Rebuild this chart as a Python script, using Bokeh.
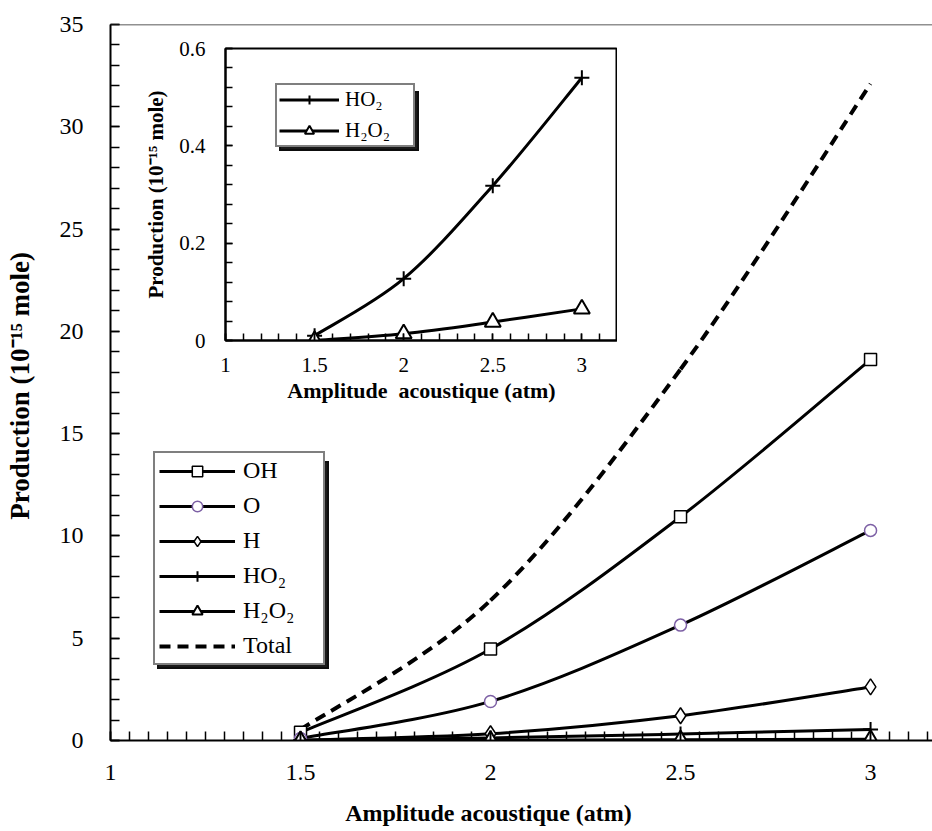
import numpy as np
from bokeh.plotting import figure
from bokeh.models import (Legend, LegendItem, SingleIntervalTicker, FixedTicker, Span,
                          Range1d)
from bokeh.layouts import column
from bokeh.embed import file_html
from bokeh.resources import INLINE

# ---------------- data ----------------
amplitude = [1.5, 2.0, 2.5, 3.0]
prod_oh = [0.40, 4.47, 10.94, 18.62]
prod_o = [0.10, 1.91, 5.64, 10.27]
prod_h = [0.02, 0.33, 1.21, 2.62]
prod_ho2 = [0.01, 0.127, 0.318, 0.54]
prod_h2o2 = [0.0, 0.014, 0.038, 0.065]
prod_total = [0.53, 6.85, 18.15, 32.1]

series_labels = ["OH", "O", "H", "HO\u2082", "H\u2082O\u2082", "Total"]
inset_y_ticks = [0, 0.2, 0.4, 0.6]
x_title = "Amplitude acoustique (atm)"
inset_x_title = "Amplitude\u00a0 acoustique (atm)"
y_title = "Production (10\u207b\u00b9\u2075 mole)"

FONT = "Liberation Serif"
PURPLE = "#7D60A5"
NBSP = "\u00a0"


def bezier_controls(xs, ys):
    """Excel-like smoothed line: Catmull-Rom segments as cubic Bezier controls."""
    x = np.asarray(xs, float)
    y = np.asarray(ys, float)
    n = len(x)
    xp = np.concatenate([[x[0]], x, [x[-1]]])
    yp = np.concatenate([[y[0]], y, [y[-1]]])
    return dict(
        x0=x[:-1], y0=y[:-1], x1=x[1:], y1=y[1:],
        cx0=xp[1:n] + (xp[2:n + 1] - xp[0:n - 1]) / 6.0,
        cy0=yp[1:n] + (yp[2:n + 1] - yp[0:n - 1]) / 6.0,
        cx1=xp[2:n + 1] - (xp[3:n + 2] - xp[1:n]) / 6.0,
        cy1=yp[2:n + 1] - (yp[3:n + 2] - yp[1:n]) / 6.0,
    )


def style_axes(fig, tick_size, xticker, yticker, x_standoff, y_standoff, tick_len):
    fig.xgrid.visible = False
    fig.ygrid.visible = False
    fig.xaxis.ticker = xticker
    fig.yaxis.ticker = yticker
    for ax in fig.axis:
        ax.axis_line_color = "black"
        ax.axis_line_width = 2
        ax.major_tick_line_color = "black"
        ax.minor_tick_line_color = "black"
        ax.major_tick_line_width = 1.5
        ax.minor_tick_line_width = 1.5
        ax.major_tick_in = tick_len
        ax.major_tick_out = 0
        ax.minor_tick_in = tick_len
        ax.minor_tick_out = 0
        ax.major_label_text_font = FONT
        ax.major_label_text_font_size = tick_size
        ax.major_label_text_color = "black"
        ax.axis_label_text_font = FONT
        ax.axis_label_text_font_style = "bold"
        ax.axis_label_text_color = "black"
    fig.xaxis.major_label_standoff = x_standoff
    fig.yaxis.major_label_standoff = y_standoff


def make_items(labels, lines, marks):
    items = []
    for lab, lr, mr in zip(labels, lines, marks):
        rs = [lr] + ([mr] if mr is not None else [])
        items.append(LegendItem(label=lab, renderers=rs))
    return items


def legend_pair(fig, labels, lines, marks, loc, font_size, glyph_w, glyph_h,
                spacing, padding, label_w, standoff):
    common = dict(orientation="vertical", margin=0,
                  glyph_width=glyph_w, glyph_height=glyph_h, label_standoff=standoff,
                  label_height=glyph_h, label_width=label_w,
                  spacing=spacing, padding=padding,
                  label_text_font=FONT, label_text_font_size=font_size,
                  label_text_color="black", border_line_color="black",
                  border_line_width=2, background_fill_alpha=1)
    # drop shadow (same geometry, blank labels), then the legend itself on top
    shadow = Legend(items=make_items([" "] * len(labels), lines, marks),
                    location=(loc[0] + 4, loc[1] - 4),
                    background_fill_color="#1a1a1a", label_text_alpha=0, **common)
    front = Legend(items=make_items(labels, lines, marks), location=loc,
                   background_fill_color="white", **common)
    fig.add_layout(shadow, "center")
    fig.add_layout(front, "center")


# ---------------- main figure ----------------
p = figure(width=932, height=831,
           x_range=Range1d(1, 3.163), y_range=Range1d(0, 35),
           min_border_left=110, min_border_right=0, min_border_top=24, min_border_bottom=91,
           output_backend="svg", toolbar_location=None)
p.outline_line_color = None
p.background_fill_alpha = 0
p.border_fill_alpha = 0
style_axes(p, "24px",
           SingleIntervalTicker(interval=0.5, num_minor_ticks=10),
           SingleIntervalTicker(interval=5, num_minor_ticks=5),
           24, 27, 9)
# titles sit off-centre in the reference: trailing no-break spaces shift them
p.xaxis.axis_label = x_title + NBSP * 11
p.xaxis.axis_label_text_font_size = "24px"
p.xaxis.axis_label_standoff = 17
p.yaxis.axis_label = y_title + NBSP
p.yaxis.axis_label_text_font_size = "27px"
p.yaxis.axis_label_standoff = 22

p.add_layout(Span(location=35, dimension="width", line_color="#222222", line_width=1.5))

main_specs = [
    (prod_oh, "square", 12, "black", "solid", 3),
    (prod_o, "circle", 12, PURPLE, "solid", 3),
    (prod_h, "diamond", 16, "black", "solid", 3),
    (prod_ho2, "cross", 15, "black", "solid", 3),
    (prod_h2o2, "triangle", 16, "black", "solid", 3),
    (prod_total, None, 0, "black", "11 7", 4),
]

line_rs = []
for vals, marker, size, mcolor, dash, lw in main_specs:
    line_rs.append(p.bezier(line_color="black", line_width=lw, line_dash=dash,
                            **bezier_controls(amplitude, vals)))
mark_rs = []
for vals, marker, size, mcolor, dash, lw in main_specs:
    if marker is None:
        mark_rs.append(None)
        continue
    mark_rs.append(p.scatter(amplitude, vals, marker=marker, size=size,
                             fill_color="white", line_color=mcolor,
                             line_width=2 if marker in ("cross", "triangle") else 1.5))

legend_pair(p, series_labels, line_rs, mark_rs, (43, 75), "24px",
            76, 26, 8, 4, 76, 8)

# ---------------- inset figure ----------------
inset_minor = list(np.round(np.arange(0, 0.6001, 0.04), 4))
inset = figure(width=502, height=367,
               x_range=Range1d(1, 3.2), y_range=Range1d(0, 0.6),
               min_border_left=110, min_border_right=0, min_border_top=10, min_border_bottom=65,
               output_backend="svg", toolbar_location=None)
inset.outline_line_color = "black"
inset.outline_line_width = 2
style_axes(inset, "21px",
           SingleIntervalTicker(interval=0.5, num_minor_ticks=5),
           FixedTicker(ticks=inset_y_ticks, minor_ticks=inset_minor),
           17, 20, 7)
inset.xaxis.axis_label = inset_x_title
inset.xaxis.axis_label_text_font_size = "22px"
inset.xaxis.axis_label_standoff = 3
inset.yaxis.axis_label = y_title
inset.yaxis.axis_label_text_font_size = "21px"
inset.yaxis.axis_label_standoff = 8

inset_specs = [
    (prod_ho2, "cross", 15),
    (prod_h2o2, "triangle", 16),
]
in_lines = []
for vals, marker, size in inset_specs:
    in_lines.append(inset.bezier(line_color="black", line_width=3,
                                 **bezier_controls(amplitude, vals)))
in_marks = []
for vals, marker, size in inset_specs:
    in_marks.append(inset.scatter(amplitude, vals, marker=marker, size=size,
                                  fill_color="white", line_color="black", line_width=2))

legend_pair(inset, series_labels[3:5], in_lines, in_marks, (50, 193), "21px",
            60, 23, 6, 2, 66, 6)

inset.margin = (38, 0, 0, 115)
p.margin = (-405, 0, 0, 0)

layout = column(inset, p)
open("out.html", "w").write(file_html(layout, INLINE))
